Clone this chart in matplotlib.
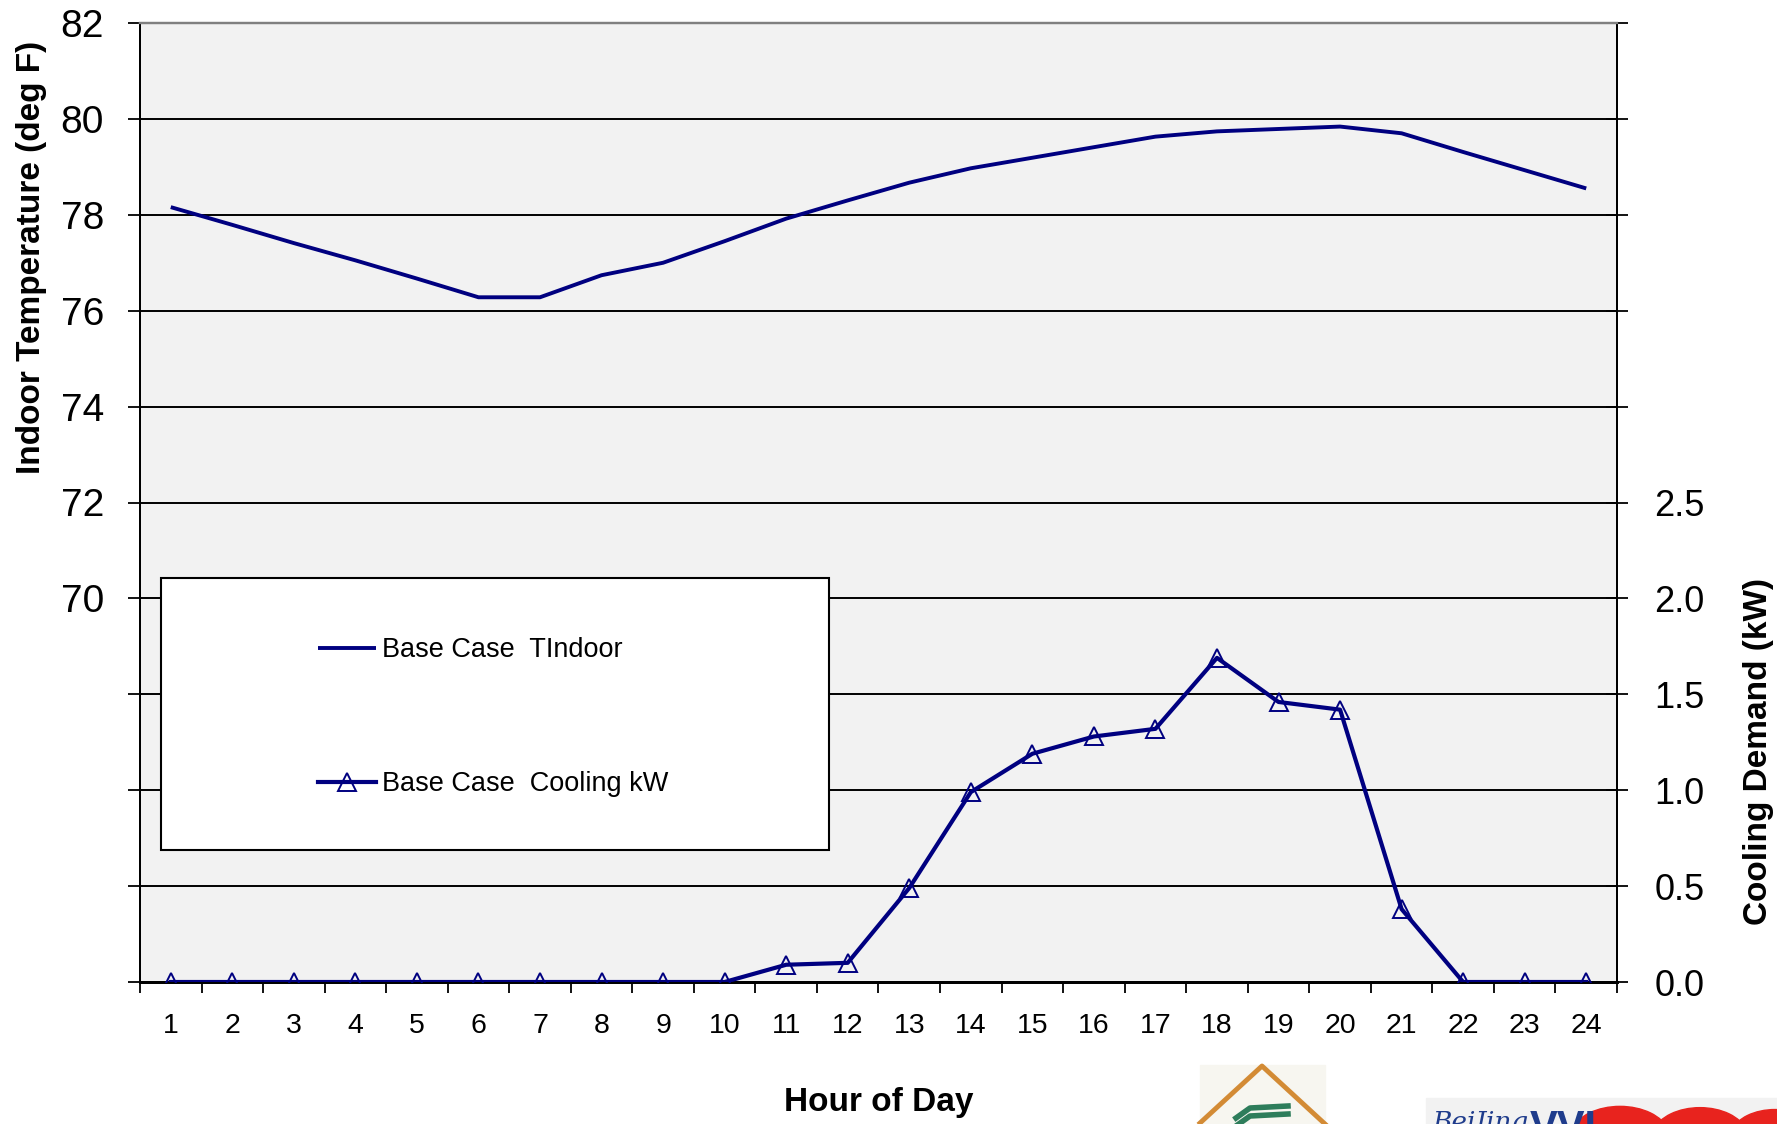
import matplotlib

matplotlib.use("Agg")
import matplotlib.pyplot as plt
from matplotlib.patches import Rectangle, Wedge
from matplotlib.lines import Line2D

plt.rcParams["font.family"] = ["Liberation Sans", "DejaVu Sans"]

# hourly results for the base case
hours = list(range(1, 25))
t_indoor = [78.16, 77.79, 77.41, 77.05, 76.67, 76.28, 76.28, 76.74, 77.00, 77.45,
            77.92, 78.30, 78.67, 78.97, 79.19, 79.41, 79.63, 79.74, 79.79, 79.84,
            79.70, 79.31, 78.93, 78.55]
cooling_kw = [0, 0, 0, 0, 0, 0, 0, 0, 0, 0,
              0.09, 0.10, 0.49, 0.99, 1.19, 1.28, 1.32, 1.69, 1.46, 1.42,
              0.38, 0, 0, 0]

temp_ticks = [62, 64, 66, 68, 70, 72, 74, 76, 78, 80, 82]
temp_labels = ["", "", "", "", "70", "72", "74", "76", "78", "80", "82"]
kw_ticks = [0, 0.5, 1.0, 1.5, 2.0, 2.5, 3.0, 3.5, 4.0, 4.5, 5.0]
kw_labels = ["0.0", "0.5", "1.0", "1.5", "2.0", "2.5", "", "", "", "", ""]

NAVY = "#000080"
W, H = 1777, 1124

fig = plt.figure(figsize=(W / 100, H / 100), dpi=100)
ax = fig.add_axes([140 / W, 1 - 982 / H, (1617 - 140) / W, (982 - 23) / H])
ax.set_facecolor("#F2F2F2")
ax2 = ax.twinx()

line_t, = ax.plot(hours, t_indoor, color=NAVY, lw=2.8, solid_capstyle="butt",
                  label="Base Case  TIndoor", zorder=3)
line_c, = ax2.plot(hours, cooling_kw, color=NAVY, lw=3.0, marker="^", ms=13.5,
                   mfc="none", mec=NAVY, mew=1.4, label="Base Case  Cooling kW",
                   zorder=3)

ax.set_xlim(0.5, 24.5)
ax.set_ylim(62, 82)
ax2.set_ylim(0, 5)

# category-style x axis: labels on the hours, tick marks between them
ax.set_xticks(hours)
ax.set_xticklabels([str(h) for h in hours], fontsize=20.5)
ax.set_xticks([h + 0.5 for h in range(0, 25)], minor=True)
ax.tick_params(axis="x", which="major", length=0, pad=22.5)
ax.tick_params(axis="x", which="minor", direction="out", length=8, width=1.3,
               color="black")

ax.set_yticks(temp_ticks)
ax.set_yticklabels(temp_labels, fontsize=28)
ax.tick_params(axis="y", direction="out", length=9, width=1.3, pad=17)

ax2.set_yticks(kw_ticks)
ax2.set_yticklabels(kw_labels, fontsize=26)
ax2.tick_params(axis="y", direction="inout", length=16, width=1.3, pad=19)

ax.grid(axis="y", color="black", lw=1.4, zorder=1)
ax.set_axisbelow(True)

for a in (ax, ax2):
    a.spines["top"].set_color("#808080")
    a.spines["top"].set_linewidth(1.6)
    a.spines["left"].set_linewidth(1.4)
    a.spines["right"].set_linewidth(1.4)
    a.spines["bottom"].set_linewidth(2.0)

ax.set_xlabel("Hour of Day", fontsize=24, fontweight="bold")
ax.xaxis.set_label_coords(0.5, -0.109)
ax.set_ylabel("Indoor Temperature (deg F)", fontsize=24, fontweight="bold")
ax.yaxis.set_label_coords(-0.063, 0.756)
ax2.set_ylabel("Cooling Demand (kW)", fontsize=24, fontweight="bold",
               rotation=90)
ax2.yaxis.set_label_coords(1.085, 0.24)

# legend box with a lot of empty space around the entries
box = Rectangle((161 / W, 1 - 850 / H), (829 - 161) / W, (850 - 578) / H,
                transform=fig.transFigure, facecolor="white",
                edgecolor="black", lw=1.5, zorder=4)
box.set_clip_on(False)
ax2.add_artist(box)
leg = ax2.legend(handles=[line_t, line_c], loc="upper left",
                 bbox_to_anchor=(318 / W, 1 - 637 / H),
                 bbox_transform=fig.transFigure, frameon=False, fontsize=19.5,
                 handlelength=2.15, handletextpad=0.2, labelspacing=4.0,
                 borderpad=0, borderaxespad=0)
leg.set_zorder(5)

# logos along the bottom edge
fig.patches.append(Rectangle((1200 / W, 0), 125 / W, 59 / H,
                             transform=fig.transFigure, color="#F7F6F0",
                             zorder=0))
fig.lines.append(Line2D([1200 / W, 1262 / W, 1325 / W],
                        [1 - 1123 / H, 1 - 1066 / H, 1 - 1124 / H],
                        transform=fig.transFigure, color="#D38B35", lw=3.5))
for dy in (1108, 1116):
    fig.lines.append(Line2D([1236 / W, 1250 / W, 1288 / W],
                            [1 - (dy + 10) / H, 1 - dy / H, 1 - (dy - 2) / H],
                            transform=fig.transFigure, color="#2E7D5B", lw=4))
fig.patches.append(Rectangle((1426 / W, 0), 351 / W, 26 / H,
                             transform=fig.transFigure, color="#F2F2F2",
                             zorder=0))
fig.text(1432 / W, 1 - 1130 / H, "BeiJing", fontsize=19, style="italic",
         family="DejaVu Serif", color="#1F3C8C", va="baseline")
fig.text(1530 / W, 1 - 1140 / H, "VVI", fontsize=30, fontweight="bold",
         color="#1F3C8C", va="baseline")
for cx, r in ((1620, 50), (1700, 48), (1775, 45)):
    fig.patches.append(Wedge((cx / W, 1 - 1138 / H), r / W, 15, 165,
                             transform=fig.transFigure, color="#E8231E"))

fig.savefig("out.png", dpi=100)
